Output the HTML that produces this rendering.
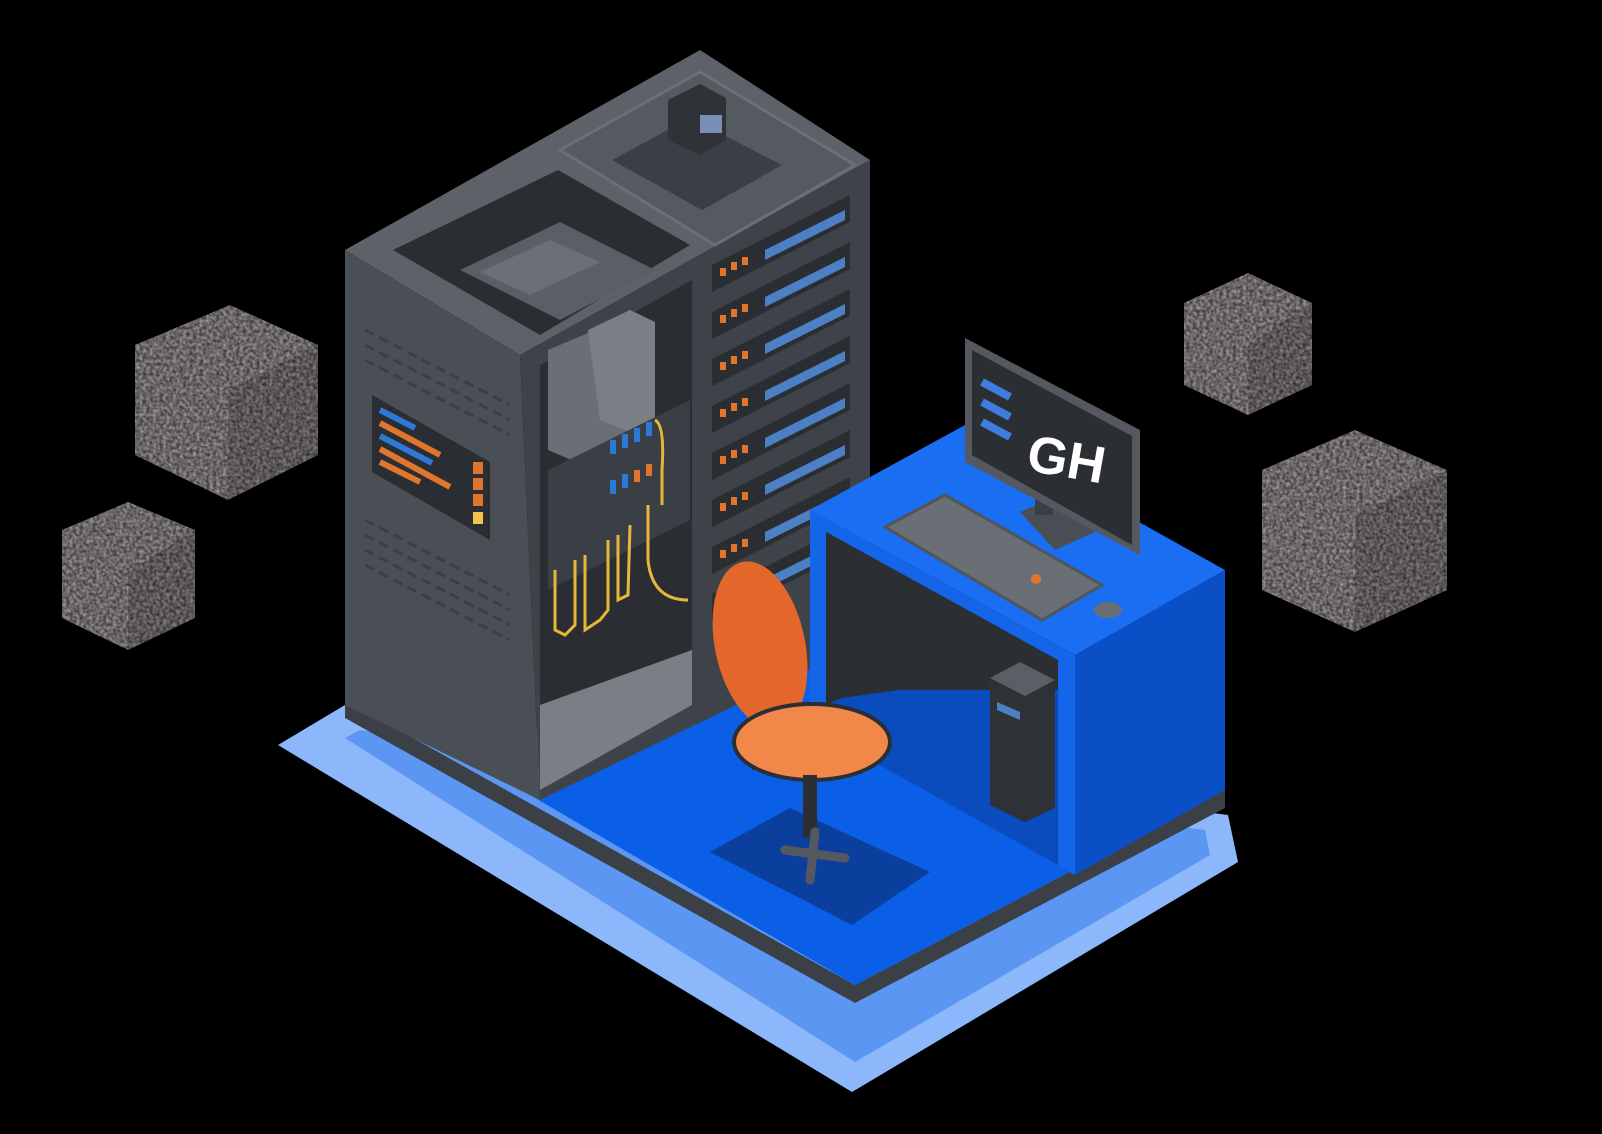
<!DOCTYPE html>
<html><head><meta charset="utf-8"><style>
html,body{margin:0;padding:0;background:#000;width:1602px;height:1134px;overflow:hidden}
svg{display:block}
</style></head><body>
<svg width="1602" height="1134" viewBox="0 0 1602 1134" xmlns="http://www.w3.org/2000/svg">
<defs>
<filter id="rock" x="0" y="0" width="100%" height="100%" color-interpolation-filters="sRGB">
<feTurbulence type="fractalNoise" baseFrequency="0.3" numOctaves="2" seed="3" result="n"/>
<feColorMatrix in="n" type="matrix" values="0.6 0 0 0 0.12  0.6 0 0 0 0.1  0.6 0 0 0 0.1  0 0 0 0 1" result="c"/>
<feComposite in="c" in2="SourceGraphic" operator="in"/>
</filter>
</defs>
<rect width="1602" height="1134" fill="#000"/>

<g filter="url(#rock)">
<polygon points="230,305 318,345 318,455 228,500 135,455 135,345" fill="#777"/>
<polygon points="128,502 195,530 195,618 128,650 62,618 62,530" fill="#777"/>
<polygon points="1248,273 1312,303 1312,385 1248,415 1184,385 1184,303" fill="#777"/>
<polygon points="1355,430 1447,470 1447,590 1355,632 1262,590 1262,470" fill="#777"/>
</g>
<g fill="#000" opacity="0.15">
<polygon points="228,390 318,345 318,455 228,500"/>
<polygon points="128,572 195,530 195,618 128,650"/>
<polygon points="1248,345 1312,303 1312,385 1248,415"/>
<polygon points="1355,515 1447,470 1447,590 1355,632"/>
</g>

<polygon points="278,745 345,705 1228,815 1238,862 852,1092" fill="#8cb8fb"/>
<polygon points="345,738 360,730 1205,830 1210,855 855,1062" fill="#5b97f2"/>
<polygon points="345,700 855,985 1225,790 1225,808 855,1003 345,718" fill="#3b4046"/>
<polygon points="530,795 870,615 1225,790 855,985" fill="#0b5fe6"/>
<polygon points="710,852 790,808 930,872 852,925" fill="#0a3f9e"/>

<polygon points="700,50 870,160 520,355 345,250" fill="#5d6268"/>
<polygon points="345,250 520,355 540,800 345,705" fill="#4a4f55"/>
<polygon points="520,355 870,160 870,640 540,800" fill="#3e4349"/>
<polygon points="560,150 700,72 855,165 715,245" fill="#555a60" stroke="#6a6f75" stroke-width="3"/>
<polygon points="612,160 690,118 782,165 702,210" fill="#3a3f45"/>
<polygon points="668,100 700,84 726,98 726,140 700,155 668,140" fill="#2f3338"/>
<rect x="700" y="115" width="22" height="18" fill="#7a8fb5"/>
<polygon points="393,250 558,170 690,245 540,335" fill="#2a2e33"/>
<polygon points="460,270 560,222 655,270 560,320" fill="#5a5f65"/>
<polygon points="480,272 550,240 600,262 530,295" fill="#6b7076"/>
<polygon points="540,365 692,280 692,705 540,790" fill="#2a2e33"/>
<polygon points="548,350 595,330 630,345 630,445 583,465 548,450" fill="#6a6f75"/>
<polygon points="588,330 630,310 655,322 655,420 630,432 600,420" fill="#7a7f85"/>
<polygon points="548,470 690,400 690,520 548,590" fill="#3a3f45"/>
<g fill="#2e79d8"><rect x="610" y="440" width="6" height="14"/><rect x="622" y="434" width="6" height="14"/><rect x="634" y="428" width="6" height="14"/><rect x="646" y="422" width="6" height="14"/><rect x="610" y="480" width="6" height="14"/><rect x="622" y="474" width="6" height="14"/></g>
<g fill="#e0762c"><rect x="634" y="470" width="6" height="12"/><rect x="646" y="464" width="6" height="12"/></g>
<g fill="none" stroke="#e8b73a" stroke-width="3">
<path d="M555,570 L555,630 L565,635 L575,625 L575,560"/>
<path d="M585,555 L585,630 L600,620 L608,610 L608,540"/>
<path d="M618,535 L618,600 L628,595 L630,525"/>
<path d="M648,505 L648,560 Q652,600 688,600"/>
<path d="M655,420 Q665,425 662,470 L662,505"/>
</g>
<polygon points="540,705 692,650 692,705 540,790" fill="#7a7f85"/>
<polygon points="372,395 490,462 490,540 372,472" fill="#2a2e33"/>
<g stroke-width="6">
<line x1="380" y1="410" x2="415" y2="428" stroke="#2e79d8"/>
<line x1="380" y1="423" x2="440" y2="455" stroke="#e0762c"/>
<line x1="380" y1="436" x2="432" y2="463" stroke="#2e79d8"/>
<line x1="380" y1="449" x2="450" y2="487" stroke="#e0762c"/>
<line x1="380" y1="462" x2="420" y2="482" stroke="#e0762c"/>
</g>
<g fill="#e0762c"><rect x="473" y="462" width="10" height="12"/><rect x="473" y="478" width="10" height="12"/><rect x="473" y="494" width="10" height="12"/></g>
<rect x="473" y="512" width="10" height="12" fill="#f2c44a"/>
<g stroke="#3a3f45" stroke-width="3" stroke-dasharray="10 6">
<line x1="365" y1="330" x2="510" y2="405"/><line x1="365" y1="345" x2="510" y2="420"/><line x1="365" y1="360" x2="510" y2="435"/>
<line x1="365" y1="520" x2="510" y2="595"/><line x1="365" y1="535" x2="510" y2="610"/><line x1="365" y1="550" x2="510" y2="625"/><line x1="365" y1="565" x2="510" y2="640"/>
</g>
<g fill="#2a2e33">
<polygon points="712,265 850,195 850,222 712,292"/>
<polygon points="712,312 850,242 850,269 712,339"/>
<polygon points="712,359 850,289 850,316 712,386"/>
<polygon points="712,406 850,336 850,363 712,433"/>
<polygon points="712,453 850,383 850,410 712,480"/>
<polygon points="712,500 850,430 850,457 712,527"/>
<polygon points="712,547 850,477 850,504 712,574"/>
<polygon points="712,594 850,524 850,551 712,621"/>
</g>
<g fill="#4d7fc4">
<polygon points="765,250 845,210 845,220 765,260"/><polygon points="765,297 845,257 845,267 765,307"/>
<polygon points="765,344 845,304 845,314 765,354"/><polygon points="765,391 845,351 845,361 765,401"/>
<polygon points="765,438 845,398 845,408 765,448"/><polygon points="765,485 845,445 845,455 765,495"/>
<polygon points="765,532 845,492 845,502 765,542"/><polygon points="765,579 845,539 845,549 765,589"/>
</g>
<g fill="#e0762c">
<rect x="720" y="268" width="6" height="8"/><rect x="731" y="262" width="6" height="8"/><rect x="742" y="257" width="6" height="8"/>
<rect x="720" y="315" width="6" height="8"/><rect x="731" y="309" width="6" height="8"/><rect x="742" y="304" width="6" height="8"/>
<rect x="720" y="362" width="6" height="8"/><rect x="731" y="356" width="6" height="8"/><rect x="742" y="351" width="6" height="8"/>
<rect x="720" y="409" width="6" height="8"/><rect x="731" y="403" width="6" height="8"/><rect x="742" y="398" width="6" height="8"/>
<rect x="720" y="456" width="6" height="8"/><rect x="731" y="450" width="6" height="8"/><rect x="742" y="445" width="6" height="8"/>
<rect x="720" y="503" width="6" height="8"/><rect x="731" y="497" width="6" height="8"/><rect x="742" y="492" width="6" height="8"/>
<rect x="720" y="550" width="6" height="8"/><rect x="731" y="544" width="6" height="8"/><rect x="742" y="539" width="6" height="8"/>
</g>

<polygon points="810,510 1075,655 1075,875 810,720" fill="#1565e8"/>
<polygon points="826,532 1058,660 1058,865 826,735" fill="#0a4bbd"/>
<polygon points="826,532 1058,660 1058,690 900,690 826,700" fill="#2b2f34"/>
<polygon points="826,532 1000,628 826,705" fill="#2b2f34"/>
<polygon points="1075,655 1225,570 1225,790 1075,875" fill="#0b4fc6"/>
<polygon points="810,510 965,425 1225,570 1075,655" fill="#1a6ef2"/>
<polygon points="990,678 1020,662 1055,680 1055,808 1025,822 990,805" fill="#2e3237"/>
<polygon points="990,678 1020,662 1055,680 1025,696" fill="#5a5f65"/>
<polygon points="997,702 1020,712 1020,720 997,710" fill="#4d7fc4"/>
<polygon points="885,527 945,495 1102,585 1042,620" fill="#6a6f75" stroke="#50555b" stroke-width="3"/>
<circle cx="1036" cy="579" r="5" fill="#e0762c"/>
<ellipse cx="1108" cy="610" rx="14" ry="8" fill="#6a6f75"/>
<polygon points="1020,512 1060,495 1095,532 1055,550" fill="#4a4f55"/>
<rect x="1035" y="470" width="18" height="45" fill="#3a3f45"/>
<polygon points="965,338 1140,430 1140,555 965,462" fill="#55595f"/>
<polygon points="972,350 1132,436 1132,545 972,455" fill="#2b2f34"/>
<g stroke="#3d7de0" stroke-width="8">
<line x1="982" y1="382" x2="1010" y2="397"/><line x1="982" y1="402" x2="1010" y2="417"/><line x1="982" y1="422" x2="1010" y2="437"/>
</g>
<text x="1025" y="470" transform="rotate(10 1025 470)" font-family="Liberation Sans, sans-serif" font-weight="bold" font-size="52" fill="#fff">GH</text>
<rect x="752" y="690" width="14" height="80" fill="#2b2f34"/>
<ellipse cx="760" cy="645" rx="45" ry="85" fill="#e3662a" transform="rotate(-12 760 645)"/>
<ellipse cx="812" cy="742" rx="78" ry="38" fill="#f2874a" stroke="#2b2f34" stroke-width="4"/>
<rect x="803" y="775" width="14" height="62" fill="#2b2f34"/>
<g stroke="#55595f" stroke-width="9" stroke-linecap="round">
<line x1="785" y1="850" x2="845" y2="858"/><line x1="810" y1="880" x2="815" y2="832"/>
</g>
</svg>
</body></html>
